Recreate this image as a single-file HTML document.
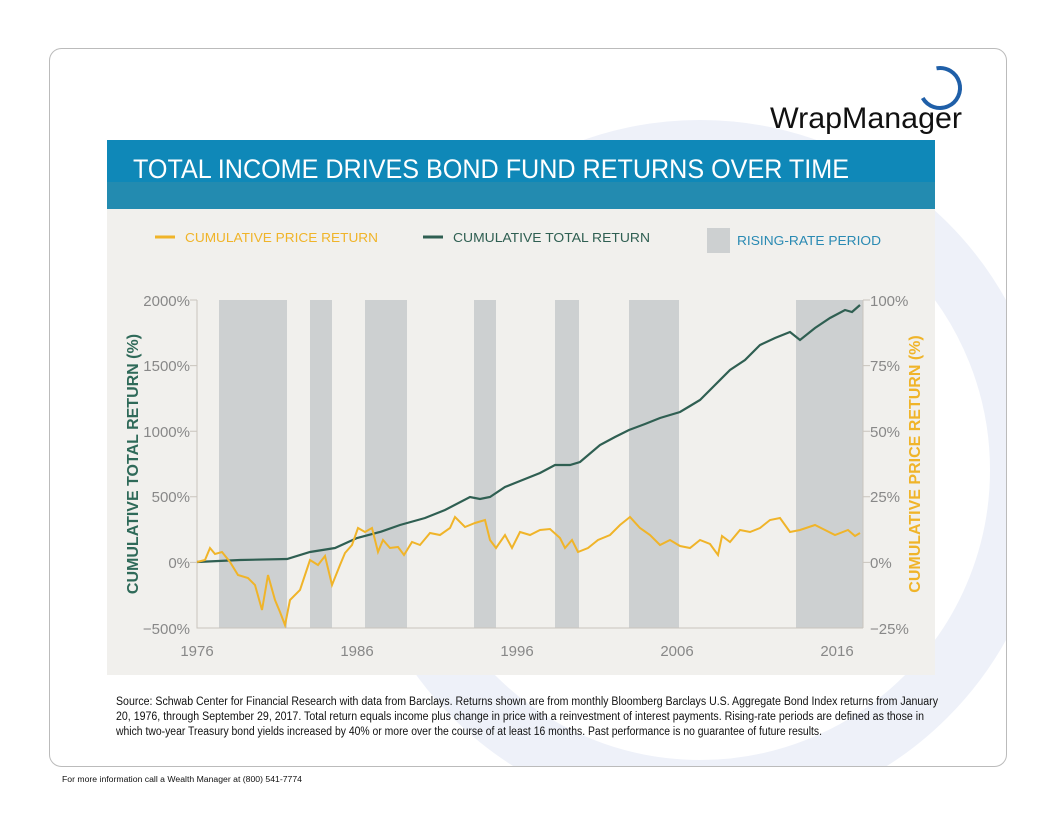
<!DOCTYPE html>
<html><head><style>
body{margin:0;width:1056px;height:816px;background:#fff;position:relative;overflow:hidden;font-family:"Liberation Sans",sans-serif}
</style></head><body>
<svg width="1056" height="816" style="position:absolute;left:0;top:0">
<defs><clipPath id="bx"><rect x="49" y="48" width="958" height="719" rx="12"/></clipPath></defs>
<g clip-path="url(#bx)">
<circle cx="700" cy="470" r="320" fill="none" stroke="#eef1f9" stroke-width="60"/>
</g>
<rect x="49.5" y="48.5" width="957" height="718" rx="12" fill="none" stroke="#bbb"/>
<path d="M936.5 68.3 A20 20 0 1 1 922.7 98" fill="none" stroke="#1f5fa8" stroke-width="4"/>
<text x="770" y="128" font-family="Liberation Sans,sans-serif" font-size="30" fill="#111" textLength="192" lengthAdjust="spacingAndGlyphs">WrapManager</text>
<rect x="107" y="140" width="828" height="69" fill="#238bb0"/>
<rect x="107" y="140" width="828" height="42" fill="#0f88b8"/>
<text x="133" y="178" font-size="27" fill="#fff" textLength="716" lengthAdjust="spacingAndGlyphs">TOTAL INCOME DRIVES BOND FUND RETURNS OVER TIME</text>
<rect x="107" y="209" width="828" height="466" fill="#f1f0ed"/>
<line x1="155" y1="237" x2="175" y2="237" stroke="#f0b429" stroke-width="3"/>
<text x="185" y="242" font-size="13" fill="#f0b429" textLength="193" lengthAdjust="spacingAndGlyphs">CUMULATIVE PRICE RETURN</text>
<line x1="423" y1="237" x2="443" y2="237" stroke="#2f5f52" stroke-width="3"/>
<text x="453" y="242" font-size="13" fill="#2f5f52" textLength="197" lengthAdjust="spacingAndGlyphs">CUMULATIVE TOTAL RETURN</text>
<rect x="707" y="228" width="23" height="25" fill="#cdd0d1"/>
<text x="737" y="245" font-size="13" fill="#2a8ab3" textLength="144" lengthAdjust="spacingAndGlyphs">RISING-RATE PERIOD</text>
<g fill="#cdd0d1">
<rect x="219" y="300" width="68" height="328"/><rect x="310" y="300" width="22" height="328"/>
<rect x="365" y="300" width="42" height="328"/><rect x="474" y="300" width="22" height="328"/>
<rect x="555" y="300" width="24" height="328"/><rect x="629" y="300" width="50" height="328"/>
<rect x="796" y="300" width="67" height="328"/>
</g>
<path d="M197 300V628H863M190 300H197M190 365.6H197M190 431.2H197M190 496.8H197M190 562.4H197M863 300H870M863 365.6H870M863 431.2H870M863 496.8H870M863 562.4H870M863 300V628" fill="none" stroke="#c9c4bd"/>
<g font-size="15" fill="#888" text-anchor="end">
<text x="190" y="306">2000%</text><text x="190" y="371">1500%</text><text x="190" y="437">1000%</text><text x="190" y="502">500%</text><text x="190" y="568">0%</text><text x="190" y="634">−500%</text>
</g>
<g font-size="15" fill="#888">
<text x="870" y="306">100%</text><text x="870" y="371">75%</text><text x="870" y="437">50%</text><text x="870" y="502">25%</text><text x="870" y="568">0%</text><text x="870" y="634">−25%</text>
</g>
<g font-size="15" fill="#888" text-anchor="middle">
<text x="197" y="656">1976</text><text x="357" y="656">1986</text><text x="517" y="656">1996</text><text x="677" y="656">2006</text><text x="837" y="656">2016</text>
</g>
<text transform="translate(138,464) rotate(-90)" font-size="16" font-weight="bold" fill="#2f6a59" text-anchor="middle">CUMULATIVE TOTAL RETURN (%)</text>
<text transform="translate(920,464) rotate(-90)" font-size="16" font-weight="bold" fill="#f0b429" text-anchor="middle">CUMULATIVE PRICE RETURN (%)</text>
<polyline fill="none" stroke="#2f5f52" stroke-width="2.2" points="197,562 240,560 287,559 310,552 335,548 357,538 380,532 400,525 425,518 445,510 470,497 480,499 490,497 505,487 520,481 540,473 555,465 570,465 580,462 600,445 615,437 629,430 645,424 660,418 680,412 690,406 700,400 715,385 730,370 745,360 760,345 775,338 790,332 800,340 815,328 830,318 845,310 852,312 860,305"/>
<polyline fill="none" stroke="#f0b429" stroke-width="2" points="197,562 205,560 210,548 215,554 222,552 230,562 238,575 248,578 255,585 262,610 268,575 275,600 280,612 285,625 290,600 300,590 305,575 310,560 318,565 325,556 332,585 340,565 345,553 352,545 358,528 365,532 372,528 378,552 383,540 390,548 398,547 404,555 412,542 420,545 430,533 440,535 450,528 455,517 465,527 475,523 485,520 490,540 496,548 505,535 512,548 520,532 530,535 540,530 550,529 560,538 565,548 572,540 578,552 588,548 598,540 610,535 620,525 630,517 640,528 650,535 660,545 670,540 680,546 690,548 700,540 710,544 718,555 722,536 730,542 740,530 750,532 760,528 770,520 780,518 790,532 800,530 815,525 825,530 835,535 848,530 855,536 860,533"/>
<text x="116" y="705" font-size="11.5" fill="#111" textLength="822" lengthAdjust="spacingAndGlyphs">Source: Schwab Center for Financial Research with data from Barclays. Returns shown are from monthly Bloomberg Barclays U.S. Aggregate Bond Index returns from January</text>
<text x="116" y="720" font-size="11.5" fill="#111" textLength="808" lengthAdjust="spacingAndGlyphs">20, 1976, through September 29, 2017. Total return equals income plus change in price with a reinvestment of interest payments. Rising-rate periods are defined as those in</text>
<text x="116" y="735" font-size="11.5" fill="#111" textLength="706" lengthAdjust="spacingAndGlyphs">which two-year Treasury bond yields increased by 40% or more over the course of at least 16 months. Past performance is no guarantee of future results.</text>
<text x="62" y="782" font-size="8" fill="#111" textLength="240" lengthAdjust="spacingAndGlyphs">For more information call a Wealth Manager at (800) 541-7774</text>
</svg>
</body></html>
